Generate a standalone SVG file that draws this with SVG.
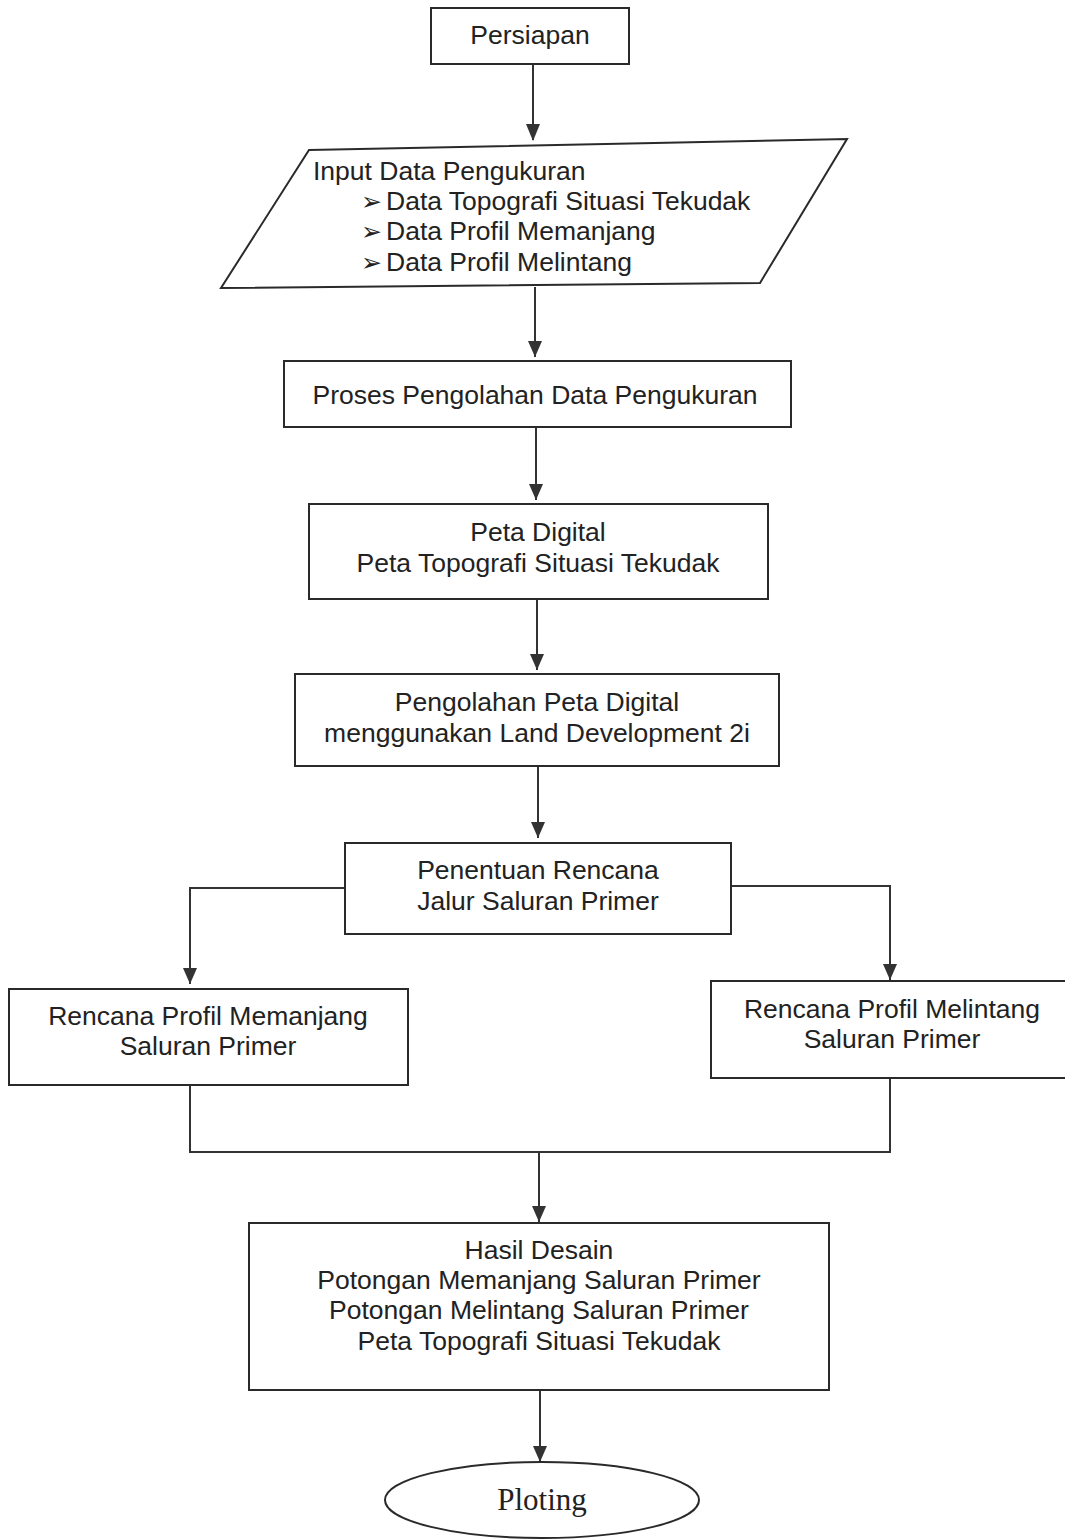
<svg xmlns="http://www.w3.org/2000/svg" width="1065" height="1539" viewBox="0 0 1065 1539">
<style>
.box{fill:#fff;stroke:#2a2a2a;stroke-width:2}
.t{font-family:"Liberation Sans",Arial,sans-serif;font-size:26.5px;fill:#222;text-anchor:middle}
.tl{font-family:"Liberation Sans",Arial,sans-serif;font-size:26.5px;fill:#222}
.b{font-family:"DejaVu Sans",sans-serif;font-size:25px;fill:#222}
.c{fill:none;stroke:#333;stroke-width:2}
</style>
<rect width="1065" height="1539" fill="#fff"/>
<g id="connectors">
<path class="c" d="M533,64 V140"/>
<path class="c" d="M535,287 V357"/>
<path class="c" d="M536,427 V500"/>
<path class="c" d="M537,599 V670"/>
<path class="c" d="M538,766 V838"/>
<path class="c" d="M345,888 H190 V984"/>
<path class="c" d="M731,886 H890 V980"/>
<path class="c" d="M190,1085 V1152 H890 V1078"/>
<path class="c" d="M539,1152 V1222"/>
<path class="c" d="M540,1390 V1462"/>
<g fill="#333">
<path d="M526,124 L540,124 L533,141 Z"/>
<path d="M528,341 L542,341 L535,357 Z"/>
<path d="M529,484 L543,484 L536,500 Z"/>
<path d="M530,654 L544,654 L537,670 Z"/>
<path d="M531,822 L545,822 L538,838 Z"/>
<path d="M183,968 L197,968 L190,984 Z"/>
<path d="M883,964 L897,964 L890,980 Z"/>
<path d="M532,1206 L546,1206 L539,1222 Z"/>
<path d="M533,1446 L547,1446 L540,1462 Z"/>
</g>
</g>
<g id="persiapan">
<rect class="box" x="431" y="8" width="198" height="56"/>
<text class="t" x="530" y="44">Persiapan</text>
</g>
<g id="input-data">
<polygon class="box" points="309,150 847,139 760,283 221,288"/>
<text class="tl" x="313" y="180">Input Data Pengukuran</text>
<text class="b" x="361" y="210">➢</text>
<text class="tl" x="386" y="210">Data Topografi Situasi Tekudak</text>
<text class="b" x="361" y="240">➢</text>
<text class="tl" x="386" y="240">Data Profil Memanjang</text>
<text class="b" x="361" y="271">➢</text>
<text class="tl" x="386" y="271">Data Profil Melintang</text>
</g>
<g id="proses">
<rect class="box" x="284" y="361" width="507" height="66"/>
<text class="t" x="535" y="404">Proses Pengolahan Data Pengukuran</text>
</g>
<g id="peta-digital">
<rect class="box" x="309" y="504" width="459" height="95"/>
<text class="t" x="538" y="541">Peta Digital</text>
<text class="t" x="538" y="572">Peta Topografi Situasi Tekudak</text>
</g>
<g id="pengolahan">
<rect class="box" x="295" y="674" width="484" height="92"/>
<text class="t" x="537" y="711">Pengolahan Peta Digital</text>
<text class="t" x="537" y="742">menggunakan Land Development 2i</text>
</g>
<g id="penentuan">
<rect class="box" x="345" y="843" width="386" height="91"/>
<text class="t" x="538" y="879">Penentuan Rencana</text>
<text class="t" x="538" y="910">Jalur Saluran Primer</text>
</g>
<g id="memanjang">
<rect class="box" x="9" y="989" width="399" height="96"/>
<text class="t" x="208" y="1025">Rencana Profil Memanjang</text>
<text class="t" x="208" y="1055">Saluran Primer</text>
</g>
<g id="melintang">
<rect class="box" x="711" y="981" width="370" height="97"/>
<text class="t" x="892" y="1018">Rencana Profil Melintang</text>
<text class="t" x="892" y="1048">Saluran Primer</text>
</g>
<g id="hasil">
<rect class="box" x="249" y="1223" width="580" height="167"/>
<text class="t" x="539" y="1259">Hasil Desain</text>
<text class="t" x="539" y="1289">Potongan Memanjang Saluran Primer</text>
<text class="t" x="539" y="1319">Potongan Melintang Saluran Primer</text>
<text class="t" x="539" y="1350">Peta Topografi Situasi Tekudak</text>
</g>
<g id="ploting">
<ellipse class="box" cx="542" cy="1500" rx="157" ry="38"/>
<text x="542" y="1510" text-anchor="middle" font-family="'Liberation Serif','Times New Roman',serif" font-size="31" fill="#222">Ploting</text>
</g>
</svg>
